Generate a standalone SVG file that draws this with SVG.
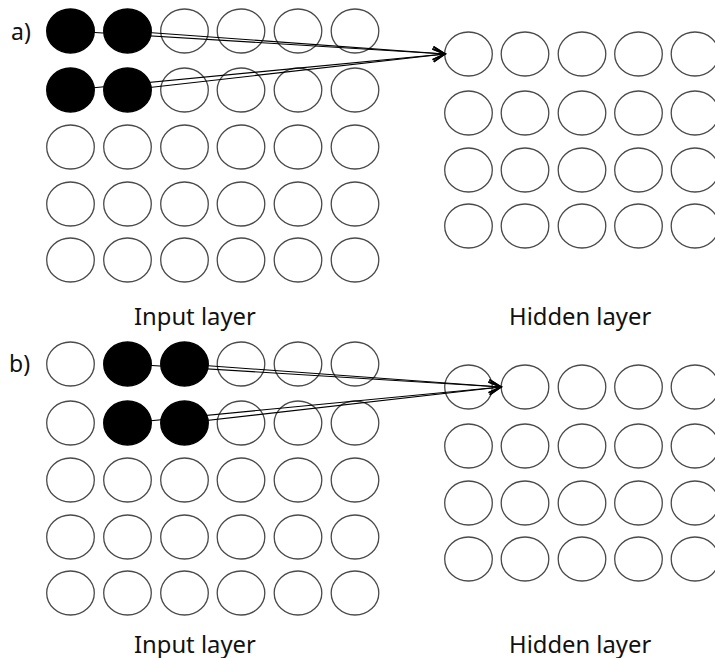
<svg xmlns="http://www.w3.org/2000/svg" width="715" height="658" viewBox="0 0 715 658">
<defs>
<style>
.n{fill:none;stroke:#4a4a4a;stroke-width:1.3}
.b{fill:#000;stroke:#000;stroke-width:1.3}
.c{stroke:#000;stroke-width:1.1;fill:none;marker-end:url(#ah)}
.t{font-family:"Noto Sans","Open Sans",sans-serif;font-size:23.8px;fill:#111}
.p{font-family:"Noto Sans","Open Sans",sans-serif;font-size:23px;fill:#111}
</style>
<marker id="ah" markerUnits="userSpaceOnUse" viewBox="-14 -8 16 16" refX="0" refY="0" markerWidth="16" markerHeight="16" orient="auto">
<path d="M-12,-6.5 L0,0 L-12,6.5" fill="none" stroke="#000" stroke-width="1.6"/>
</marker>
</defs>
<rect width="715" height="658" fill="#fff"/>
<text class="p" x="11" y="40">a)</text>
<text class="p" x="9" y="372">b)</text>
<!-- Panel a input layer -->
<g id="a-input">
<g id="a-i-1-1"><ellipse class="b" cx="70.5" cy="31" rx="23.8" ry="22"/></g>
<g id="a-i-1-2"><ellipse class="b" cx="127.5" cy="31" rx="23.8" ry="22"/></g>
<g id="a-i-1-3"><ellipse class="n" cx="184.5" cy="31" rx="23.8" ry="22"/></g>
<g id="a-i-1-4"><ellipse class="n" cx="241" cy="31" rx="23.8" ry="22"/></g>
<g id="a-i-1-5"><ellipse class="n" cx="298" cy="31" rx="23.8" ry="22"/></g>
<g id="a-i-1-6"><ellipse class="n" cx="355" cy="31" rx="23.8" ry="22"/></g>
<g id="a-i-2-1"><ellipse class="b" cx="70.5" cy="90" rx="23.8" ry="22"/></g>
<g id="a-i-2-2"><ellipse class="b" cx="127.5" cy="90" rx="23.8" ry="22"/></g>
<g id="a-i-2-3"><ellipse class="n" cx="184.5" cy="90" rx="23.8" ry="22"/></g>
<g id="a-i-2-4"><ellipse class="n" cx="241" cy="90" rx="23.8" ry="22"/></g>
<g id="a-i-2-5"><ellipse class="n" cx="298" cy="90" rx="23.8" ry="22"/></g>
<g id="a-i-2-6"><ellipse class="n" cx="355" cy="90" rx="23.8" ry="22"/></g>
<g id="a-i-3-1"><ellipse class="n" cx="70.5" cy="147" rx="23.8" ry="22"/></g>
<g id="a-i-3-2"><ellipse class="n" cx="127.5" cy="147" rx="23.8" ry="22"/></g>
<g id="a-i-3-3"><ellipse class="n" cx="184.5" cy="147" rx="23.8" ry="22"/></g>
<g id="a-i-3-4"><ellipse class="n" cx="241" cy="147" rx="23.8" ry="22"/></g>
<g id="a-i-3-5"><ellipse class="n" cx="298" cy="147" rx="23.8" ry="22"/></g>
<g id="a-i-3-6"><ellipse class="n" cx="355" cy="147" rx="23.8" ry="22"/></g>
<g id="a-i-4-1"><ellipse class="n" cx="70.5" cy="204" rx="23.8" ry="22"/></g>
<g id="a-i-4-2"><ellipse class="n" cx="127.5" cy="204" rx="23.8" ry="22"/></g>
<g id="a-i-4-3"><ellipse class="n" cx="184.5" cy="204" rx="23.8" ry="22"/></g>
<g id="a-i-4-4"><ellipse class="n" cx="241" cy="204" rx="23.8" ry="22"/></g>
<g id="a-i-4-5"><ellipse class="n" cx="298" cy="204" rx="23.8" ry="22"/></g>
<g id="a-i-4-6"><ellipse class="n" cx="355" cy="204" rx="23.8" ry="22"/></g>
<g id="a-i-5-1"><ellipse class="n" cx="70.5" cy="260" rx="23.8" ry="22"/></g>
<g id="a-i-5-2"><ellipse class="n" cx="127.5" cy="260" rx="23.8" ry="22"/></g>
<g id="a-i-5-3"><ellipse class="n" cx="184.5" cy="260" rx="23.8" ry="22"/></g>
<g id="a-i-5-4"><ellipse class="n" cx="241" cy="260" rx="23.8" ry="22"/></g>
<g id="a-i-5-5"><ellipse class="n" cx="298" cy="260" rx="23.8" ry="22"/></g>
<g id="a-i-5-6"><ellipse class="n" cx="355" cy="260" rx="23.8" ry="22"/></g>
</g>
<!-- Panel a hidden layer -->
<g id="a-hidden">
<g id="a-h-1-1"><ellipse class="n" cx="468.5" cy="54" rx="23.8" ry="22"/></g>
<g id="a-h-1-2"><ellipse class="n" cx="525" cy="54" rx="23.8" ry="22"/></g>
<g id="a-h-1-3"><ellipse class="n" cx="582" cy="54" rx="23.8" ry="22"/></g>
<g id="a-h-1-4"><ellipse class="n" cx="638.5" cy="54" rx="23.8" ry="22"/></g>
<g id="a-h-1-5"><ellipse class="n" cx="695" cy="54" rx="23.8" ry="22"/></g>
<g id="a-h-2-1"><ellipse class="n" cx="468.5" cy="113" rx="23.8" ry="22"/></g>
<g id="a-h-2-2"><ellipse class="n" cx="525" cy="113" rx="23.8" ry="22"/></g>
<g id="a-h-2-3"><ellipse class="n" cx="582" cy="113" rx="23.8" ry="22"/></g>
<g id="a-h-2-4"><ellipse class="n" cx="638.5" cy="113" rx="23.8" ry="22"/></g>
<g id="a-h-2-5"><ellipse class="n" cx="695" cy="113" rx="23.8" ry="22"/></g>
<g id="a-h-3-1"><ellipse class="n" cx="468.5" cy="170" rx="23.8" ry="22"/></g>
<g id="a-h-3-2"><ellipse class="n" cx="525" cy="170" rx="23.8" ry="22"/></g>
<g id="a-h-3-3"><ellipse class="n" cx="582" cy="170" rx="23.8" ry="22"/></g>
<g id="a-h-3-4"><ellipse class="n" cx="638.5" cy="170" rx="23.8" ry="22"/></g>
<g id="a-h-3-5"><ellipse class="n" cx="695" cy="170" rx="23.8" ry="22"/></g>
<g id="a-h-4-1"><ellipse class="n" cx="468.5" cy="226" rx="23.8" ry="22"/></g>
<g id="a-h-4-2"><ellipse class="n" cx="525" cy="226" rx="23.8" ry="22"/></g>
<g id="a-h-4-3"><ellipse class="n" cx="582" cy="226" rx="23.8" ry="22"/></g>
<g id="a-h-4-4"><ellipse class="n" cx="638.5" cy="226" rx="23.8" ry="22"/></g>
<g id="a-h-4-5"><ellipse class="n" cx="695" cy="226" rx="23.8" ry="22"/></g>
</g>
<!-- Panel b input layer -->
<g id="b-input">
<g id="b-i-1-1"><ellipse class="n" cx="70.5" cy="364" rx="23.8" ry="22"/></g>
<g id="b-i-1-2"><ellipse class="b" cx="127.5" cy="364" rx="23.8" ry="22"/></g>
<g id="b-i-1-3"><ellipse class="b" cx="184.5" cy="364" rx="23.8" ry="22"/></g>
<g id="b-i-1-4"><ellipse class="n" cx="241" cy="364" rx="23.8" ry="22"/></g>
<g id="b-i-1-5"><ellipse class="n" cx="298" cy="364" rx="23.8" ry="22"/></g>
<g id="b-i-1-6"><ellipse class="n" cx="355" cy="364" rx="23.8" ry="22"/></g>
<g id="b-i-2-1"><ellipse class="n" cx="70.5" cy="423" rx="23.8" ry="22"/></g>
<g id="b-i-2-2"><ellipse class="b" cx="127.5" cy="423" rx="23.8" ry="22"/></g>
<g id="b-i-2-3"><ellipse class="b" cx="184.5" cy="423" rx="23.8" ry="22"/></g>
<g id="b-i-2-4"><ellipse class="n" cx="241" cy="423" rx="23.8" ry="22"/></g>
<g id="b-i-2-5"><ellipse class="n" cx="298" cy="423" rx="23.8" ry="22"/></g>
<g id="b-i-2-6"><ellipse class="n" cx="355" cy="423" rx="23.8" ry="22"/></g>
<g id="b-i-3-1"><ellipse class="n" cx="70.5" cy="480" rx="23.8" ry="22"/></g>
<g id="b-i-3-2"><ellipse class="n" cx="127.5" cy="480" rx="23.8" ry="22"/></g>
<g id="b-i-3-3"><ellipse class="n" cx="184.5" cy="480" rx="23.8" ry="22"/></g>
<g id="b-i-3-4"><ellipse class="n" cx="241" cy="480" rx="23.8" ry="22"/></g>
<g id="b-i-3-5"><ellipse class="n" cx="298" cy="480" rx="23.8" ry="22"/></g>
<g id="b-i-3-6"><ellipse class="n" cx="355" cy="480" rx="23.8" ry="22"/></g>
<g id="b-i-4-1"><ellipse class="n" cx="70.5" cy="537" rx="23.8" ry="22"/></g>
<g id="b-i-4-2"><ellipse class="n" cx="127.5" cy="537" rx="23.8" ry="22"/></g>
<g id="b-i-4-3"><ellipse class="n" cx="184.5" cy="537" rx="23.8" ry="22"/></g>
<g id="b-i-4-4"><ellipse class="n" cx="241" cy="537" rx="23.8" ry="22"/></g>
<g id="b-i-4-5"><ellipse class="n" cx="298" cy="537" rx="23.8" ry="22"/></g>
<g id="b-i-4-6"><ellipse class="n" cx="355" cy="537" rx="23.8" ry="22"/></g>
<g id="b-i-5-1"><ellipse class="n" cx="70.5" cy="593" rx="23.8" ry="22"/></g>
<g id="b-i-5-2"><ellipse class="n" cx="127.5" cy="593" rx="23.8" ry="22"/></g>
<g id="b-i-5-3"><ellipse class="n" cx="184.5" cy="593" rx="23.8" ry="22"/></g>
<g id="b-i-5-4"><ellipse class="n" cx="241" cy="593" rx="23.8" ry="22"/></g>
<g id="b-i-5-5"><ellipse class="n" cx="298" cy="593" rx="23.8" ry="22"/></g>
<g id="b-i-5-6"><ellipse class="n" cx="355" cy="593" rx="23.8" ry="22"/></g>
</g>
<!-- Panel b hidden layer -->
<g id="b-hidden">
<g id="b-h-1-1"><ellipse class="n" cx="468.5" cy="387" rx="23.8" ry="22"/></g>
<g id="b-h-1-2"><ellipse class="n" cx="525" cy="387" rx="23.8" ry="22"/></g>
<g id="b-h-1-3"><ellipse class="n" cx="582" cy="387" rx="23.8" ry="22"/></g>
<g id="b-h-1-4"><ellipse class="n" cx="638.5" cy="387" rx="23.8" ry="22"/></g>
<g id="b-h-1-5"><ellipse class="n" cx="695" cy="387" rx="23.8" ry="22"/></g>
<g id="b-h-2-1"><ellipse class="n" cx="468.5" cy="446" rx="23.8" ry="22"/></g>
<g id="b-h-2-2"><ellipse class="n" cx="525" cy="446" rx="23.8" ry="22"/></g>
<g id="b-h-2-3"><ellipse class="n" cx="582" cy="446" rx="23.8" ry="22"/></g>
<g id="b-h-2-4"><ellipse class="n" cx="638.5" cy="446" rx="23.8" ry="22"/></g>
<g id="b-h-2-5"><ellipse class="n" cx="695" cy="446" rx="23.8" ry="22"/></g>
<g id="b-h-3-1"><ellipse class="n" cx="468.5" cy="503" rx="23.8" ry="22"/></g>
<g id="b-h-3-2"><ellipse class="n" cx="525" cy="503" rx="23.8" ry="22"/></g>
<g id="b-h-3-3"><ellipse class="n" cx="582" cy="503" rx="23.8" ry="22"/></g>
<g id="b-h-3-4"><ellipse class="n" cx="638.5" cy="503" rx="23.8" ry="22"/></g>
<g id="b-h-3-5"><ellipse class="n" cx="695" cy="503" rx="23.8" ry="22"/></g>
<g id="b-h-4-1"><ellipse class="n" cx="468.5" cy="559" rx="23.8" ry="22"/></g>
<g id="b-h-4-2"><ellipse class="n" cx="525" cy="559" rx="23.8" ry="22"/></g>
<g id="b-h-4-3"><ellipse class="n" cx="582" cy="559" rx="23.8" ry="22"/></g>
<g id="b-h-4-4"><ellipse class="n" cx="638.5" cy="559" rx="23.8" ry="22"/></g>
<g id="b-h-4-5"><ellipse class="n" cx="695" cy="559" rx="23.8" ry="22"/></g>
</g>
<!-- Connectors -->
<g id="connectors">
<line class="c" x1="70.5" y1="31" x2="445" y2="54"/>
<line class="c" x1="127.5" y1="31" x2="445" y2="54"/>
<line class="c" x1="70.5" y1="90" x2="445" y2="54"/>
<line class="c" x1="127.5" y1="90" x2="445" y2="54"/>
<line class="c" x1="127.5" y1="364" x2="501" y2="387"/>
<line class="c" x1="184.5" y1="364" x2="501" y2="387"/>
<line class="c" x1="127.5" y1="423" x2="501" y2="387"/>
<line class="c" x1="184.5" y1="423" x2="501" y2="387"/>
</g>
<g id="labels">
<text class="t" x="134" y="325">Input layer</text>
<text class="t" x="509" y="325">Hidden layer</text>
<text class="t" x="134" y="652.5">Input layer</text>
<text class="t" x="509" y="652.5">Hidden layer</text>
</g>
</svg>
